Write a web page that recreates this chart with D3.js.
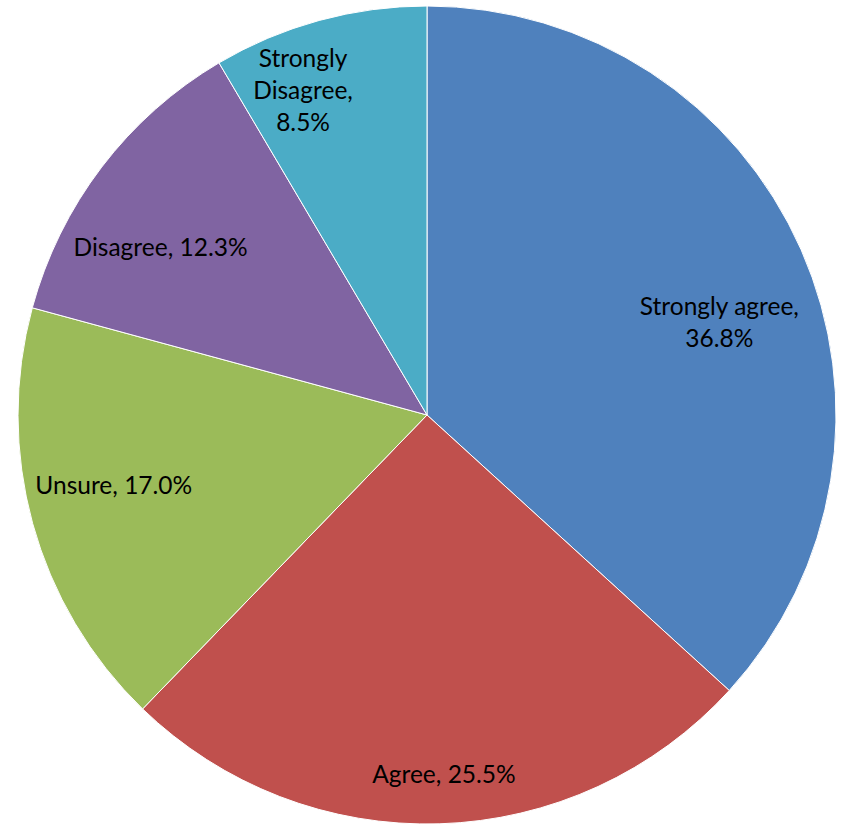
<!DOCTYPE html>
<html>
<head>
<meta charset="utf-8">
<script src="https://cdn.jsdelivr.net/npm/d3@7"></script>
<style>
  html, body { margin: 0; padding: 0; background: #fff; }
  svg { display: block; }
</style>
</head>
<body>
<svg id="chart" width="841" height="824"></svg>
<script>
// Survey responses, clockwise from 12 o'clock
const categories = ["Strongly agree", "Agree", "Unsure", "Disagree", "Strongly Disagree"];
const shares = [36.8, 25.5, 17.0, 12.3, 8.5];
const colors = ["#4F81BD", "#C0504D", "#9BBB59", "#8064A2", "#4BACC6"];
// Label text lines per slice
const labelLines = [
  ["Strongly agree,", "36.8%"],
  ["Agree, 25.5%"],
  ["Unsure, 17.0%"],
  ["Disagree, 12.3%"],
  ["Strongly", "Disagree,", "8.5%"]
];

// Label placement: fraction of radius and angular nudge (degrees) from slice middle
const labelPlacement = [
  { rf: 0.75, da: 6.2 },
  { rf: 0.88, da: -0.9 },
  { rf: 0.785, da: 2.7 },
  { rf: 0.77, da: -5.1 },
  { rf: 0.85, da: -5.6 }
];

const width = 841, height = 824;
const cx = 427, cy = 415, radius = 409;

const svg = d3.select("#chart");
const g = svg.append("g").attr("transform", `translate(${cx},${cy})`);

const data = categories.map((c, i) => ({ category: c, value: shares[i], i }));

const pie = d3.pie().sort(null).value(d => d.value);
const arc = d3.arc().innerRadius(0).outerRadius(radius);
const arcs = pie(data);

g.selectAll("path.slice")
  .data(arcs)
  .join("path")
  .attr("class", "slice")
  .attr("d", arc)
  .attr("fill", d => colors[d.data.i])
  .attr("stroke", "#ffffff")
  .attr("stroke-width", 1);

const fontSize = 24.5;
const lineHeight = 32;

const labels = g.selectAll("text.label")
  .data(arcs)
  .join("text")
  .attr("class", "label")
  .attr("text-anchor", "middle")
  .attr("font-family", "Lato, 'Noto Sans', sans-serif")
  .attr("font-size", fontSize)
  .attr("fill", "#000")
  .attr("transform", d => {
    const p = labelPlacement[d.data.i];
    const a = (d.startAngle + d.endAngle) / 2 + p.da * Math.PI / 180;
    const r = radius * p.rf;
    return `translate(${r * Math.sin(a)},${-r * Math.cos(a)})`;
  });

labels.each(function(d) {
  const lines = labelLines[d.data.i];
  const n = lines.length;
  d3.select(this).selectAll("tspan")
    .data(lines)
    .join("tspan")
    .attr("x", 0)
    .attr("y", (l, k) => (k - (n - 1) / 2) * lineHeight)
    .attr("dy", "0.35em")
    .text(l => l);
});
</script>
</body>
</html>
